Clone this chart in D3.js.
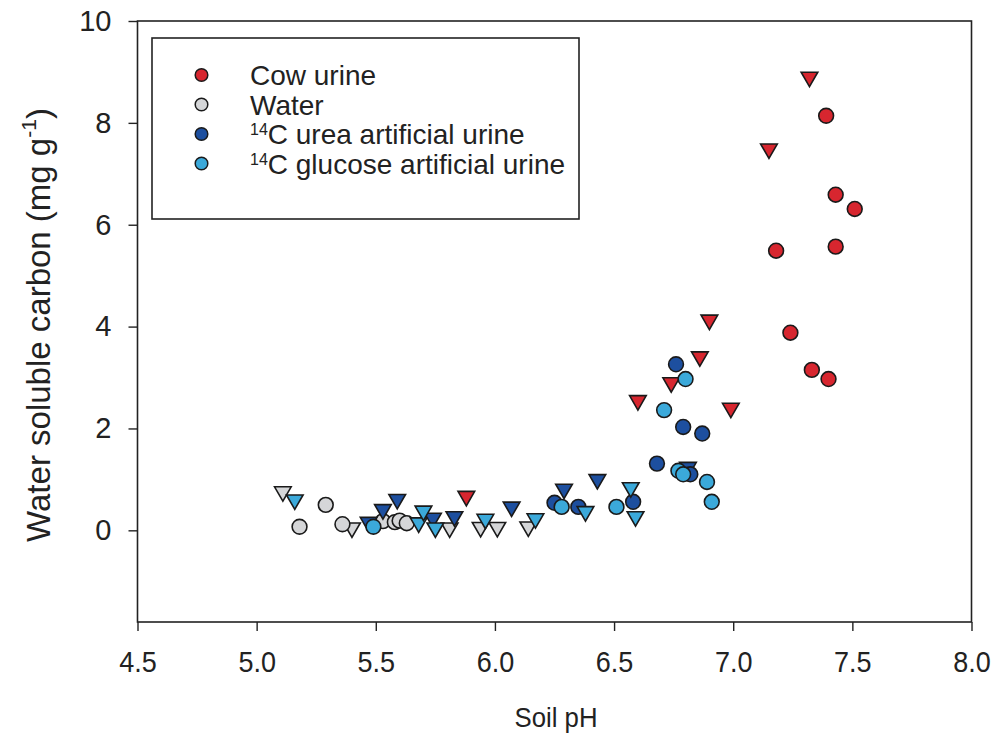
<!DOCTYPE html>
<html>
<head>
<meta charset="utf-8">
<script src="https://cdn.jsdelivr.net/npm/d3@7"></script>
<style>
  body { margin: 0; background: #fff; }
  text { font-family: "Liberation Sans", Arial, sans-serif; fill: #222; }
</style>
</head>
<body>
<div id="chart"></div>
<script>
const width = 999;
const height = 740;
const margin = {top: 21, right: 27.5, bottom: 118, left: 137.5};

// [pH, water soluble carbon] pairs
const cowCircles = [[7.39, 8.14], [7.43, 6.59], [7.51, 6.31], [7.18, 5.49], [7.43, 5.57], [7.24, 3.88], [7.33, 3.15], [7.40, 2.97]];
const cowTriangles = [[7.32, 8.90], [7.15, 7.49], [6.90, 4.13], [6.86, 3.41], [6.74, 2.90], [6.60, 2.55], [6.99, 2.40], [5.88, 0.67]];
const waterCircles = [[5.29, 0.50], [5.18, 0.07], [5.36, 0.12], [5.53, 0.18], [5.58, 0.16], [5.60, 0.19], [5.63, 0.14]];
const waterTriangles = [[5.11, 0.76], [5.40, 0.05], [5.81, 0.05], [5.94, 0.06], [6.01, 0.06], [6.14, 0.07]];
const ureaCircles = [[6.76, 3.26], [6.79, 2.03], [6.87, 1.90], [6.68, 1.31], [6.82, 1.10], [6.25, 0.54], [6.35, 0.46], [6.58, 0.56]];
const ureaTriangles = [[5.47, 0.16], [5.53, 0.41], [5.59, 0.61], [5.74, 0.24], [5.83, 0.27], [6.07, 0.46], [6.29, 0.81], [6.43, 1.00], [6.81, 1.24]];
const glucoseCircles = [[6.80, 2.97], [6.71, 2.36], [6.77, 1.17], [6.79, 1.10], [6.89, 0.95], [6.91, 0.56], [6.28, 0.46], [6.51, 0.46], [5.49, 0.07]];
const glucoseTriangles = [[5.16, 0.60], [5.68, 0.15], [5.70, 0.38], [5.75, 0.05], [5.96, 0.22], [6.17, 0.23], [6.38, 0.37], [6.57, 0.84], [6.59, 0.27]];

const xTicks = [4.5, 5.0, 5.5, 6.0, 6.5, 7.0, 7.5, 8.0];
const yTicks = [0, 2, 4, 6, 8, 10];

const series = [
    {name: "Cow urine", iso: "", color: "#d7262f", circles: cowCircles, triangles: cowTriangles},
    {name: "Water", iso: "", color: "#d5d6d8", circles: waterCircles, triangles: waterTriangles},
    {name: "C urea artificial urine", iso: "14", color: "#1d4f9f", circles: ureaCircles, triangles: ureaTriangles},
    {name: "C glucose artificial urine", iso: "14", color: "#3ba9da", circles: glucoseCircles, triangles: glucoseTriangles}
];

const svg = d3.select("#chart").append("svg")
    .attr("width", width)
    .attr("height", height);

const x = d3.scaleLinear().domain([4.5, 8.0]).range([margin.left, width - margin.right]);
const y = d3.scaleLinear().domain([-1.8, 10]).range([height - margin.bottom, margin.top]);

// frame
svg.append("rect")
    .attr("x", margin.left)
    .attr("y", margin.top)
    .attr("width", width - margin.left - margin.right)
    .attr("height", height - margin.top - margin.bottom)
    .attr("fill", "none")
    .attr("stroke", "#222")
    .attr("stroke-width", 1.6);

const xAxis = svg.append("g")
    .attr("transform", `translate(0,${height - margin.bottom})`)
    .call(d3.axisBottom(x).tickValues(xTicks).tickFormat(d3.format(".1f")).tickSize(9).tickPadding(20));

const yAxis = svg.append("g")
    .attr("transform", `translate(${margin.left},0)`)
    .call(d3.axisLeft(y).tickValues(yTicks).tickFormat(d3.format("d")).tickSize(9).tickPadding(17));

[xAxis, yAxis].forEach(g => {
    g.select(".domain").remove();
    g.selectAll(".tick line").attr("stroke", "#222").attr("stroke-width", 1.4);
    g.selectAll(".tick text")
        .style("font-family", '"Liberation Sans", Arial, sans-serif')
        .attr("fill", "#222");
});
yAxis.selectAll(".tick text").style("font-size", "29px");
// the x labels look a little condensed in the scan
xAxis.selectAll(".tick text")
    .style("font-size", "30px")
    .attr("transform", "scale(0.9,1)");

// axis titles
svg.append("text")
    .attr("x", 556)
    .attr("y", 727)
    .attr("text-anchor", "middle")
    .style("font-size", "28px")
    .attr("transform", "translate(556,0) scale(0.92,1) translate(-556,0)")
    .text("Soil pH");

const yTitle = svg.append("text")
    .attr("transform", "translate(50,325) rotate(-90)")
    .attr("text-anchor", "middle")
    .style("font-size", "33px");
yTitle.append("tspan").text("Water soluble carbon (mg g");
yTitle.append("tspan").attr("dy", -14).style("font-size", "21px").text("-1");
yTitle.append("tspan").attr("dy", 14).text(")");

// points
const tri = d3.symbol().type(d3.symbolTriangle).size(120);
const plot = svg.append("g");

series.forEach(s => {
    plot.selectAll(null)
        .data(s.triangles)
        .enter()
        .append("path")
        .attr("d", tri)
        .attr("transform", d => `translate(${x(d[0])},${y(d[1])}) rotate(180)`)
        .attr("fill", s.color)
        .attr("stroke", "#1a1a1a")
        .attr("stroke-width", 1.6);

    plot.selectAll(null)
        .data(s.circles)
        .enter()
        .append("circle")
        .attr("cx", d => x(d[0]))
        .attr("cy", d => y(d[1]))
        .attr("r", 7.4)
        .attr("fill", s.color)
        .attr("stroke", "#1a1a1a")
        .attr("stroke-width", 1.6);
});

// legend
const legend = svg.append("g");
legend.append("rect")
    .attr("x", 152)
    .attr("y", 38)
    .attr("width", 427)
    .attr("height", 181)
    .attr("fill", "#fff")
    .attr("stroke", "#222")
    .attr("stroke-width", 1.6);

series.forEach((s, i) => {
    const cy = 75 + i * 29.5;
    legend.append("circle")
        .attr("cx", 201.5)
        .attr("cy", cy)
        .attr("r", 6.3)
        .attr("fill", s.color)
        .attr("stroke", "#1a1a1a")
        .attr("stroke-width", 1.5);
    const t = legend.append("text")
        .attr("x", 250)
        .attr("y", cy + 10)
        .style("font-size", "28px");
    if (s.iso) {
        t.append("tspan").attr("dy", -9).style("font-size", "16px").text(s.iso);
        t.append("tspan").attr("dy", 9).text(s.name);
    } else {
        t.text(s.name);
    }
});
</script>
</body>
</html>
